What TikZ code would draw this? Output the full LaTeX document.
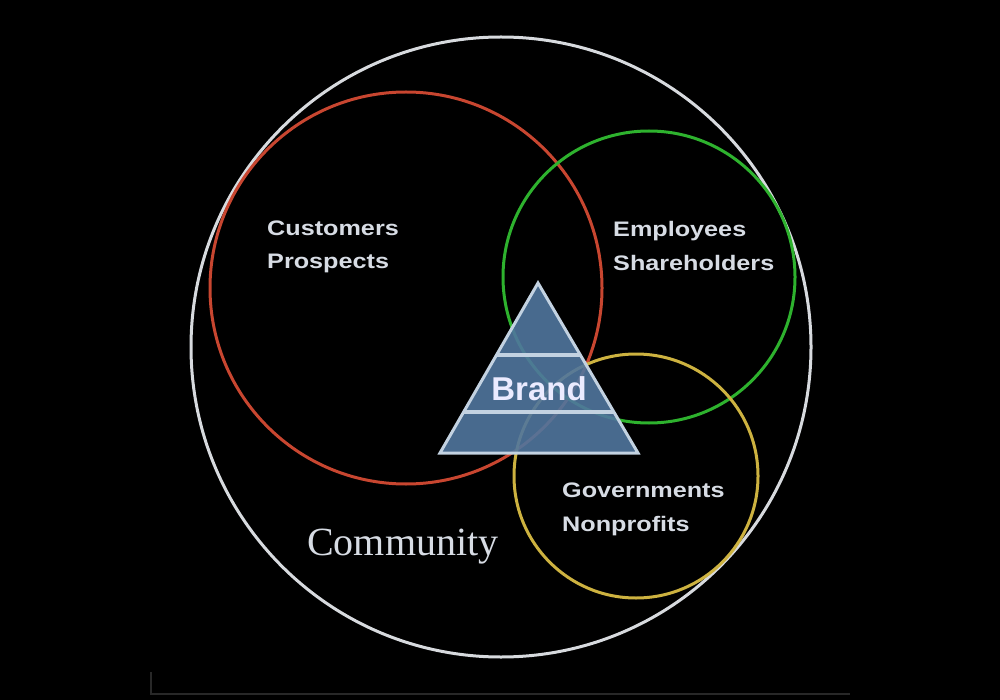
\documentclass[tikz,border=0pt]{standalone}
\usepackage{fontspec}
\setmainfont{Liberation Serif}
\newfontfamily\widesans[FakeStretch=1.2]{Liberation Sans}
\newfontfamily\brandsans{Liberation Sans}
\definecolor{ringwhite}{RGB}{215,218,222}
\definecolor{ringred}{RGB}{200,70,48}
\definecolor{ringgreen}{RGB}{46,178,46}
\definecolor{ringyellow}{RGB}{205,178,64}
\definecolor{tribody}{RGB}{80,118,158}
\definecolor{triedge}{RGB}{195,210,225}
\definecolor{labeltext}{RGB}{215,220,228}
\definecolor{framegrey}{RGB}{40,40,40}
\tikzset{
  ring/.style={circle, draw=#1, line width=3pt, inner sep=0pt, outer sep=0pt},
  grouplabel/.style={anchor=base west, inner sep=0pt, text=labeltext,
    font=\widesans\bfseries\fontsize{21}{21}\selectfont},
  brandlabel/.style={anchor=base, inner sep=0pt, text=white!92!blue,
    font=\brandsans\bfseries\fontsize{33}{33}\selectfont},
  communitylabel/.style={anchor=base west, inner sep=0pt, text=labeltext,
    font=\fontsize{40}{40}\selectfont},
}
\begin{document}
\begin{tikzpicture}[x=1pt, y=-1pt]
\fill[black] (0,0) rectangle (1000,700);
\useasboundingbox (0,0) rectangle (1000,700);
% faint frame line at bottom
\coordinate (fa) at (151,672);
\coordinate (fb) at (151,694);
\coordinate (fc) at (850,694);
\draw[framegrey, line width=1.5pt] (fa) -- (fb) -- (fc);
% rings
\node[ring=ringwhite, minimum size=620pt] (community) at (501,347) {};
\node[ring=ringred, minimum size=392pt] (customers) at (406,288) {};
\node[ring=ringgreen, minimum size=292pt] (employees) at (649,277) {};
\node[ring=ringyellow, minimum size=244pt] (governments) at (636,476) {};
% brand pyramid
\coordinate (apex) at (538,283);
\coordinate (bl) at (440,453);
\coordinate (br) at (638,453);
\fill[tribody, fill opacity=0.9] (apex) -- (br) -- (bl) -- cycle;
\begin{scope}
  \clip (apex) -- (br) -- (bl) -- cycle;
  \coordinate (s1l) at (420,355);
  \coordinate (s1r) at (660,355);
  \coordinate (s2l) at (420,412);
  \coordinate (s2r) at (660,412);
  \draw[triedge, line width=4pt] (s1l) -- (s1r);
  \draw[triedge, line width=4pt] (s2l) -- (s2r);
\end{scope}
\draw[triedge, line width=3pt, line join=miter] (apex) -- (br) -- (bl) -- cycle;
\node[brandlabel] (brand) at (539,400) {Brand};
% labels
\node[grouplabel] (cust1) at (267,236) {Customers};
\node[grouplabel] (cust2) at (267,269) {Prospects};
\node[grouplabel] (emp1) at (613,237) {Employees};
\node[grouplabel] (emp2) at (613,271) {Shareholders};
\node[grouplabel] (gov1) at (562,497) {Governments};
\node[grouplabel] (gov2) at (562,531) {Nonprofits};
\node[communitylabel] (comm) at (307,555) {Community};
\end{tikzpicture}
\end{document}
